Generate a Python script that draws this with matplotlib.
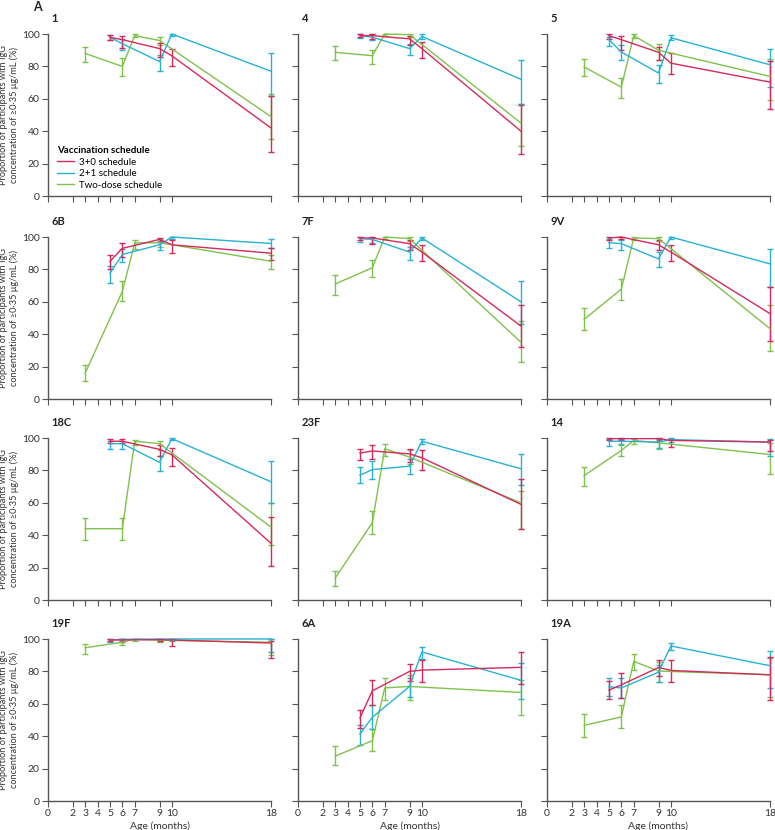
import matplotlib
matplotlib.use("Agg")
import matplotlib.pyplot as plt
from matplotlib.lines import Line2D

plt.rcParams['font.family'] = ['Lato', 'DejaVu Sans']

serotypes = ['1', '4', '5', '6B', '7F', '9V', '18C', '23F', '14', '19F', '6A', '19A']

# ages (months) at which each schedule was sampled
age_30 = [5, 6, 9, 10, 18]
age_21 = [5, 6, 9, 10, 18]
age_2d = [3, 6, 7, 9, 18]

# 3+0 schedule: estimate, lower, upper (%)
p30 = [[98, 96.5, 91, 86.5, 42], [99, 99, 97, 91, 40], [99, 96.5, 88.7, 82, 70.3],
       [85, 93, 98.5, 95.2, 90], [99.4, 99.4, 95.9, 90.7, 45], [99.4, 100, 95.2, 90.7, 52.7],
       [98, 98, 93, 89.6, 35], [90.7, 92, 90.2, 87.8, 59], [99.6, 99.6, 99.6, 98.5, 97.5],
       [99.4, 99.4, 99.6, 99.4, 97.5], [51.2, 68, 80, 80.8, 82.5], [68.4, 71.7, 82.4, 80.6, 77.9]]
p30_lo = [[96, 91.5, 86, 80, 27], [98, 97, 93, 85, 26], [97, 90, 84, 75, 53.8],
          [80.3, 87.6, 96.9, 90, 86], [98, 95.6, 91.7, 85, 32], [98, 98.5, 91.7, 85, 36],
          [96.9, 96.9, 88.8, 83, 21], [86.5, 87, 85, 80.5, 44], [98.5, 98.5, 98, 94.4, 92],
          [98.5, 98, 98.5, 95.5, 88], [44.8, 59, 74, 73.3, 72], [63, 63.6, 76.9, 73.3, 62.4]]
p30_hi = [[99.5, 99, 94.5, 91, 62], [100, 100, 99, 95, 56], [100, 98.5, 92, 88, 83.5],
          [88.6, 96.3, 99.4, 97.9, 93], [100, 99.8, 98.3, 95.2, 58], [100, 100, 98.3, 95.2, 69.3],
          [99.4, 99.4, 95.8, 93.8, 51], [93.4, 95.9, 93.4, 92.3, 75], [100, 100, 100, 99.6, 99],
          [100, 100, 100, 99.8, 99], [56.4, 75, 84.7, 87.2, 92], [73.8, 79, 86.8, 86.8, 89]]

# 2+1 schedule
p21 = [[98, 94, 83, 100, 77], [99, 98, 91, 98.5, 72], [96.5, 88.9, 75.9, 97.7, 81],
       [77.6, 89.2, 95.2, 100, 96], [99, 98.5, 90.7, 99.4, 60], [96.5, 95.9, 86.5, 100, 83.4],
       [96.5, 96.5, 85, 99.6, 73], [77, 80.5, 82.6, 98, 81], [98, 98, 97.5, 99, 97.5],
       [99.4, 99.8, 100, 100, 100], [41.3, 51.7, 70.7, 92, 74.5], [70.5, 69.8, 79.5, 95.7, 83.5]]
p21_lo = [[96, 90, 77, 99, 62], [97.5, 96.5, 87, 97, 57], [92.4, 84, 69.7, 96, 67.2],
          [71.4, 84.4, 91.7, 99, 93], [97, 96, 86, 98, 46], [93.4, 91.7, 81.3, 99, 69.3],
          [93.4, 93.4, 79.9, 98.5, 60], [72, 74.5, 77.8, 96.5, 71], [95.2, 96, 93.8, 97.5, 88.6],
          [98, 98.5, 99, 99, 92], [34.5, 44.4, 64, 87.4, 63], [64.7, 63.4, 73.3, 93, 69.8]]
p21_hi = [[99.5, 97, 87, 100, 88], [100, 100, 94, 100, 84], [98, 93, 80.6, 99.5, 90.7],
          [82, 92.7, 97.5, 100, 99], [100, 100, 93.8, 100, 73], [99, 98, 90.7, 100, 92.3],
          [98, 98, 88.8, 100, 86], [82, 86, 87, 99.5, 90], [99.6, 99.6, 99.6, 100, 99.6],
          [100, 100, 100, 100, 100], [47, 59, 75.8, 95, 85], [76, 76, 83.7, 97.7, 92.4]]

# two-dose schedule
p2d = [[88, 80, 99, 96, 49], [88.7, 86.6, 100, 99.6, 45], [79.6, 67.2, 99, 90, 73.8],
       [16, 66.4, 96.3, 96.5, 85], [71, 81, 100, 99, 35], [49.2, 67.8, 99.4, 99, 43.4],
       [44, 44, 98, 96.5, 45], [13.5, 47.7, 93.4, 88.2, 60], [76.8, 92.3, 98.5, 97, 89.8],
       [94.6, 98, 100, 99.2, 98], [27.7, 37.2, 69.8, 70.7, 67], [46.7, 51.9, 86.2, 80.2, 77.9]]
p2d_lo = [[83, 74, 98, 93, 35], [84, 81.4, 99, 98, 31], [73.8, 60.2, 97.5, 84, 59.4],
          [11.2, 60.6, 92.7, 93.8, 80], [64, 75.5, 98.5, 97.5, 23], [42.3, 61, 98, 97.5, 29.5],
          [37.3, 37.3, 95.4, 92.3, 34], [8.7, 41, 89, 84, 44], [70.5, 88.6, 96.5, 93.4, 77.8],
          [91, 96, 98.5, 98, 90], [22, 31, 62.4, 62.4, 53], [39.7, 45, 80.6, 73.3, 64]]
p2d_hi = [[92, 85, 100, 98, 63], [92.4, 90, 100, 100, 57], [84.7, 72.8, 100, 94, 84.7],
          [21, 73, 98.3, 99, 89], [76.8, 86, 100, 100, 48], [56.4, 74, 100, 100, 57.9],
          [50.8, 50.8, 99, 98, 60], [18, 55, 96.5, 92.3, 67], [82.4, 95.8, 99.6, 98.5, 97],
          [97, 99.8, 100, 100, 100], [34, 44.4, 75.8, 77.5, 75], [53.5, 59, 90.9, 85.7, 88.4]]

xticks = [0, 2, 3, 4, 5, 6, 7, 9, 10, 18]
yticks = [0, 20, 40, 60, 80, 100]

RED = '#d42a5c'
BLUE = '#27b2d6'
GREEN = '#7fc24c'
AXC = '#555555'
TXT = '#333333'

W, H = 775, 830
fig = plt.figure(figsize=(W / 100, H / 100), dpi=100)

col_left = [48, 298, 547]
row_top = [34, 237, 438, 639]
aw, ah = 223, 162

series = [
    (age_2d, p2d, p2d_lo, p2d_hi, GREEN),
    (age_21, p21, p21_lo, p21_hi, BLUE),
    (age_30, p30, p30_lo, p30_hi, RED),
]

ylab = 'Proportion of participants with IgG\nconcentration of ≥0·35 μg/mL (%)'

for i, name in enumerate(serotypes):
    r, c = divmod(i, 3)
    ax = fig.add_axes([col_left[c] / W, 1 - (row_top[r] + ah) / H, aw / W, ah / H])
    for ages, val, lo, hi, col in series:
        v = val[i]
        yerr = [[v[k] - lo[i][k] for k in range(len(v))], [hi[i][k] - v[k] for k in range(len(v))]]
        ax.errorbar(ages, v, yerr=yerr, color=col, lw=1.0, elinewidth=1.0,
                    capsize=2.3, capthick=1.0, clip_on=False)
    ax.set_xlim(0, 18)
    ax.set_ylim(0, 100)
    for s in ['top', 'right']:
        ax.spines[s].set_visible(False)
    for s in ['left', 'bottom']:
        ax.spines[s].set_color(AXC)
        ax.spines[s].set_linewidth(1.0)
    ax.set_xticks(xticks)
    ax.set_yticks(yticks)
    ax.tick_params(colors=AXC, length=4, width=0.8, labelsize=7.5, labelcolor=TXT, pad=2)
    if r < 3:
        ax.set_xticklabels([])
    else:
        ax.set_xlabel('Age (months)', fontsize=7.5, color=TXT, labelpad=2)
    if c > 0:
        ax.set_yticklabels([])
    else:
        fig.text(9 / W, 1 - (row_top[r] + ah / 2) / H, ylab, rotation=90,
                 ha='center', va='center', fontsize=6.6, color=TXT, linespacing=1.1)
    ax.text(0.3, 106, name, fontsize=8, fontweight='bold', color='#222222',
            ha='left', va='bottom', clip_on=False)
    if i == 0:
        handles = [Line2D([], [], color=RED, lw=1), Line2D([], [], color=BLUE, lw=1),
                   Line2D([], [], color=GREEN, lw=1)]
        leg = ax.legend(handles, ['3+0 schedule', '2+1 schedule', 'Two-dose schedule'],
                        title='Vaccination schedule', loc='lower left',
                        bbox_to_anchor=(0.04, 0.04), frameon=False, fontsize=7,
                        title_fontproperties={'weight': 'bold', 'size': 7},
                        handlelength=1.8, handletextpad=0.5, labelspacing=0.25,
                        borderaxespad=0, borderpad=0)
        leg._legend_box.align = 'left'

fig.text(33 / W, 1 - 7 / H, 'A', fontsize=9, fontweight='bold', color='#222222',
         ha='left', va='center')

fig.savefig('out.png', dpi=100)
